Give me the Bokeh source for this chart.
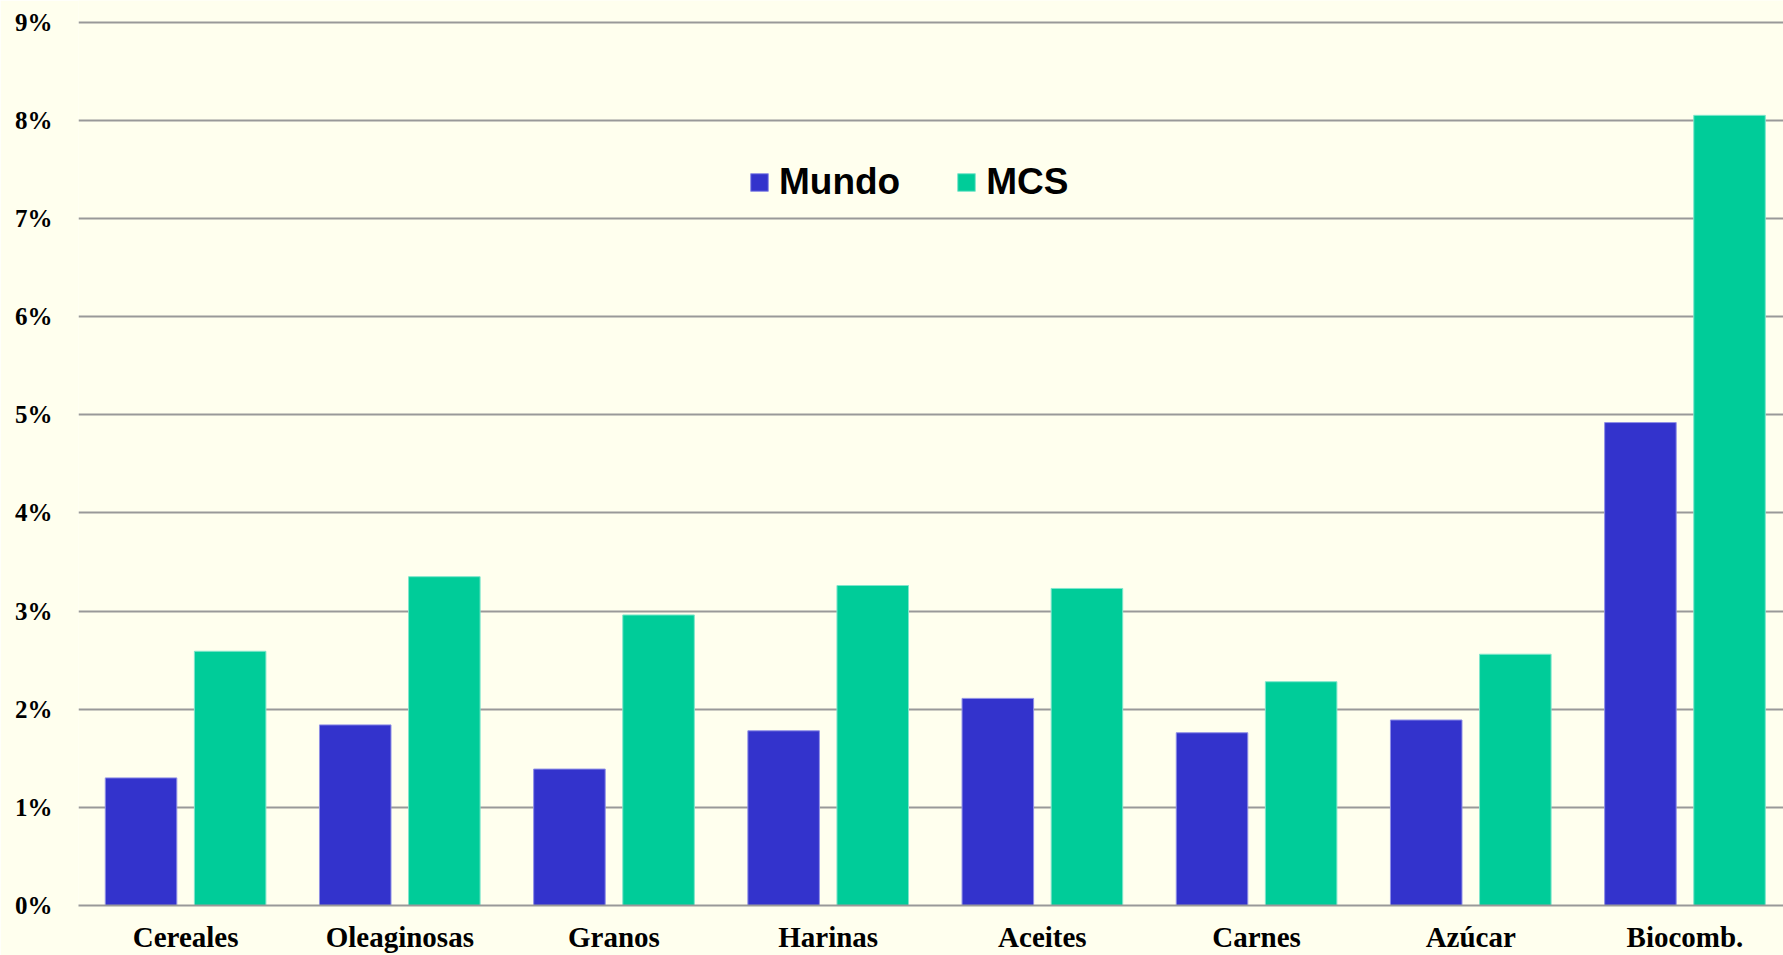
from bokeh.plotting import figure
from bokeh.models import ColumnDataSource, Range1d, FixedTicker, Legend, LegendItem
from bokeh.embed import file_html
from bokeh.resources import INLINE

categories = ["Cereales", "Oleaginosas", "Granos", "Harinas", "Aceites", "Carnes", "Azúcar", "Biocomb."]
mundo = [1.30, 1.84, 1.39, 1.78, 2.11, 1.76, 1.89, 4.92]
mcs = [2.59, 3.35, 2.96, 3.26, 3.23, 2.28, 2.56, 8.05]
series_names = ["Mundo", "MCS"]
y_ticks = [0, 1, 2, 3, 4, 5, 6, 7, 8, 9]
y_tick_labels = ["0%", "1%", "2%", "3%", "4%", "5%", "6%", "7%", "8%", "9%"]

BG = "#FFFFEE"
BLUE = "#3333CC"
GREEN = "#00CC99"
GRID = "#999999"

idx = list(range(len(categories)))
off = 0.208
bw = 0.334
src = ColumnDataSource(dict(
    xm=[i - off for i in idx],
    xc=[i + off for i in idx],
    mundo=mundo,
    mcs=mcs,
))

p = figure(width=1783, height=955, output_backend="svg", toolbar_location=None,
           x_range=Range1d(-0.5, 7.46), y_range=Range1d(0, 9.22),
           min_border_left=78, min_border_right=0, min_border_top=0, min_border_bottom=48)
p.background_fill_color = BG
p.border_fill_color = BG
p.outline_line_color = None

r1 = p.vbar(x="xm", top="mundo", bottom=0, width=bw, source=src,
            fill_color=BLUE, line_color="#8f8fe6", line_width=1)
r2 = p.vbar(x="xc", top="mcs", bottom=0, width=bw, source=src,
            fill_color=GREEN, line_color="#7fe6cc", line_width=1)

p.xgrid.visible = False
p.ygrid.grid_line_color = GRID
p.ygrid.grid_line_width = 2
p.ygrid.ticker = FixedTicker(ticks=y_ticks)

yax = p.yaxis[0]
yax.ticker = FixedTicker(ticks=y_ticks)
yax.major_label_overrides = {t: l for t, l in zip(y_ticks, y_tick_labels)}
yax.axis_line_color = None
yax.major_tick_line_color = None
yax.minor_tick_line_color = None
yax.major_label_standoff = 20
yax.major_label_text_font = "Liberation Serif"
yax.major_label_text_font_style = "bold"
yax.major_label_text_font_size = "25px"
yax.major_label_text_color = "black"

xax = p.xaxis[0]
xax.ticker = FixedTicker(ticks=idx)
xax.major_label_overrides = {i: c for i, c in zip(idx, categories)}
xax.axis_line_color = GRID
xax.axis_line_width = 2
xax.major_tick_line_color = None
xax.minor_tick_line_color = None
xax.major_label_standoff = 9
xax.major_label_text_font = "Liberation Serif"
xax.major_label_text_font_style = "bold"
xax.major_label_text_font_size = "29px"
xax.major_label_text_color = "black"

legend = Legend(items=[LegendItem(label=series_names[0], renderers=[r1]),
                       LegendItem(label=series_names[1], renderers=[r2])],
                orientation="horizontal", location=(670, 702))
legend.background_fill_alpha = 0
legend.border_line_color = None
legend.padding = 0
legend.margin = 0
legend.glyph_width = 22
legend.glyph_height = 22
legend.label_standoff = 9
legend.spacing = 55
legend.label_text_font = "Liberation Sans"
legend.label_text_font_style = "bold"
legend.label_text_font_size = "37px"
legend.label_text_color = "black"
p.add_layout(legend, "center")

open("out.html", "w").write(file_html(p, INLINE))
